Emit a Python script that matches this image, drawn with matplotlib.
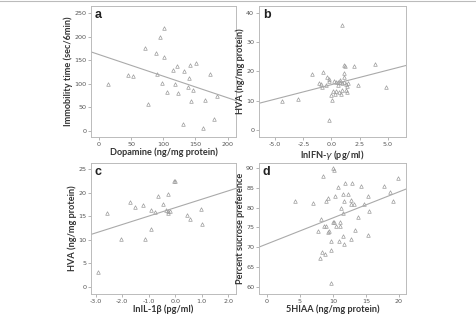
import numpy as np
import matplotlib
matplotlib.use("Agg")
import matplotlib.pyplot as plt
from matplotlib.lines import Line2D

# ---- Panel a: Dopamine vs immobility time ----
a_x = [13.4, 45.2, 52.9, 71.5, 76.6, 88.4, 90.0, 94.6, 98.2, 101.8, 101.3, 106.0,
       115.2, 117.7, 121.9, 123.4, 131.6, 131.0, 139.3, 141.9, 138.3, 145.5, 143.0,
       151.2, 165.5, 173.0, 183.5, 179.0, 162.0]
a_y = [99.9, 119.0, 117.5, 177.0, 57.4, 165.0, 121.8, 199.0, 102.7, 219.5, 156.5, 82.0,
       129.0, 100.0, 137.4, 80.0, 127.5, 15.0, 112.0, 139.6, 94.0, 86.4, 63.7,
       143.8, 66.6, 122.0, 75.0, 25.0, 7.0]
a_fit = [162.4, -0.459]  # intercept, slope

# ---- Panel b: lnIFN-gamma vs HVA ----
b_x = [0.94, -4.4, -2.95, -1.7, -0.78, -0.4, -0.22, -0.93, -0.84, -0.51, 1.09, 1.2,
       2.03, 3.88, 4.86, 2.34, 1.14, 1.09, 0.41, 0.61, 0.8, 0.97, 1.14, 1.32, 1.5,
       1.41, 1.3, 1.35, 0.94, 0.7, 0.85, 0.41, 0.11, -0.07, 0.32, 0.05, -0.22, 0.58,
       -1.1, -0.2, 0.2, 0.75]
b_y = [35.7, 9.8, 10.6, 19.1, 19.7, 18.0, 17.3, 15.8, 14.8, 15.3, 22.1, 21.8,
       21.8, 22.4, 14.7, 15.2, 19.3, 18.2, 16.5, 16.3, 16.3, 16.1, 16.3, 15.8, 16.1,
       15.0, 13.7, 12.85, 13.7, 12.85, 12.4, 13.3, 13.3, 11.8, 12.3, 10.1, 3.4, 15.5,
       16.0, 16.8, 16.6, 16.9]
b_fit = [15.46, 0.986]

# ---- Panel c: lnIL-1beta vs HVA ----
c_x = [-2.93, -2.59, -2.05, -1.71, -1.51, -1.23, -1.13, -0.93, -0.93, -0.77, -0.64,
       -0.47, -0.28, -0.35, -0.26, -0.26, -0.18, -0.06, 0.01, 0.43, 0.55, 0.96, 1.03]
c_y = [3.1, 15.7, 10.1, 18.1, 17.0, 17.4, 10.1, 12.2, 16.3, 15.9, 19.3,
       17.6, 19.6, 16.3, 16.0, 15.6, 16.2, 22.4, 22.5, 15.3, 14.4, 16.5, 13.3]
c_fit = [16.8, 1.78]

# ---- Panel d: 5HIAA vs sucrose preference ----
d_x = [4.28, 6.95, 8.56, 9.97, 10.2, 9.27, 8.91, 10.32, 10.83, 11.88, 12.94, 11.53,
       12.29, 14.25, 15.36, 11.68, 12.79, 12.74, 13.14, 11.23, 11.48, 14.65, 15.41,
       17.73, 18.68, 19.04, 19.84, 13.75, 8.16, 8.66, 8.91, 7.71, 9.31, 9.46, 9.97,
       10.2, 10.52, 11.08, 11.08, 13.39, 11.53, 12.79, 10.88, 11.73, 9.67, 15.36,
       8.36, 8.86, 8.1, 9.67, 9.72]
d_y = [81.6, 81.1, 88.1, 90.0, 89.7, 82.6, 81.6, 82.9, 85.2, 86.2, 86.4, 83.4,
       83.4, 85.6, 83.1, 81.6, 82.0, 80.9, 80.9, 80.0, 78.75, 81.0, 79.1,
       85.4, 83.9, 81.6, 87.5, 77.7, 77.2, 75.5, 75.3, 74.1, 73.8, 74.1, 76.4,
       76.4, 75.4, 76.4, 75.4, 74.3, 72.8, 72.0, 71.5, 70.8, 71.5, 73.1,
       68.8, 68.2, 67.2, 69.3, 60.9]
d_fit = [70.8, 0.662]

panels = [
    dict(x=a_x, y=a_y, fit=a_fit, letter="a",
         xlabel="Dopamine (ng/mg protein)", ylabel="Immobility time (sec/6min)",
         xlim=(-12.3, 213), ylim=(-12.7, 265.5),
         xticks=[0, 50, 100, 150, 200], yticks=[0, 50, 100, 150, 200, 250],
         xfmt="{:g}", yfmt="{:g}",
         rect=[0.1908, 0.5637, 0.304, 0.4172]),
    dict(x=b_x, y=b_y, fit=b_fit, letter="b",
         xlabel=r"lnIFN-$\gamma$ (pg/ml)", ylabel="HVA (ng/mg protein)",
         xlim=(-6.45, 6.63), ylim=(-2.4, 42.3),
         xticks=[-5, -2.5, 0, 2.5, 5], yticks=[0, 10, 20, 30, 40],
         xfmt="{:.1f}", yfmt="{:g}",
         rect=[0.543, 0.5637, 0.308, 0.4172]),
    dict(x=c_x, y=c_y, fit=c_fit, letter="c",
         xlabel="lnIL-1β (pg/ml)", ylabel="HVA (ng/mg protein)",
         xlim=(-3.18, 2.3), ylim=(-1.48, 26.27),
         xticks=[-3, -2, -1, 0, 1, 2], yticks=[0, 5, 10, 15, 20, 25],
         xfmt="{:.1f}", yfmt="{:g}",
         rect=[0.1908, 0.0637, 0.304, 0.4172]),
    dict(x=d_x, y=d_y, fit=d_fit, letter="d",
         xlabel="5HIAA (ng/mg protein)", ylabel="Percent sucrose preference",
         xlim=(-1.16, 21.05), ylim=(58.14, 91.35),
         xticks=[0, 5, 10, 15, 20], yticks=[60, 65, 70, 75, 80, 85, 90],
         xfmt="{:g}", yfmt="{:g}",
         rect=[0.543, 0.0637, 0.308, 0.4172]),
]

fig = plt.figure(figsize=(4.77, 3.14), dpi=100)
fig.patch.set_facecolor("white")

lab_font = dict(family=["Lato", "DejaVu Sans"], weight="bold", size=6.6, color="#333333")

for p in panels:
    ax = fig.add_axes(p["rect"])
    ax.plot(p["x"], p["y"], linestyle="none", marker="^", markersize=2.6,
            markerfacecolor="none", markeredgecolor="#9a9a9a", markeredgewidth=0.5)
    xl = np.array(p["xlim"])
    ax.plot(xl, p["fit"][0] + p["fit"][1] * xl, color="#aaaaaa", linewidth=0.8)
    ax.set_xlim(*p["xlim"])
    ax.set_ylim(*p["ylim"])
    ax.set_xticks(p["xticks"])
    ax.set_yticks(p["yticks"])
    ax.set_xticklabels([p["xfmt"].format(v) for v in p["xticks"]])
    ax.set_yticklabels([p["yfmt"].format(v) for v in p["yticks"]])
    ax.tick_params(labelsize=4.6, labelcolor="#555555", color="#999999",
                   length=2, width=0.5, pad=1.5)
    for s in ax.spines.values():
        s.set_color("#bbbbbb")
        s.set_linewidth(0.7)
    ax.set_xlabel(p["xlabel"], labelpad=0.5, **lab_font)
    ax.set_ylabel(p["ylabel"], labelpad=1.0, **lab_font)
    ax.text(0.025, 0.975, p["letter"], transform=ax.transAxes, ha="left", va="top",
            fontsize=9, fontweight="bold", family=["Liberation Sans", "DejaVu Sans"],
            color="#222222")

fig.add_artist(Line2D([0, 0.996], [0.997, 0.997], transform=fig.transFigure,
                      color="#bbbbbb", linewidth=0.8))

fig.savefig("out.png", dpi=100, facecolor="white")
